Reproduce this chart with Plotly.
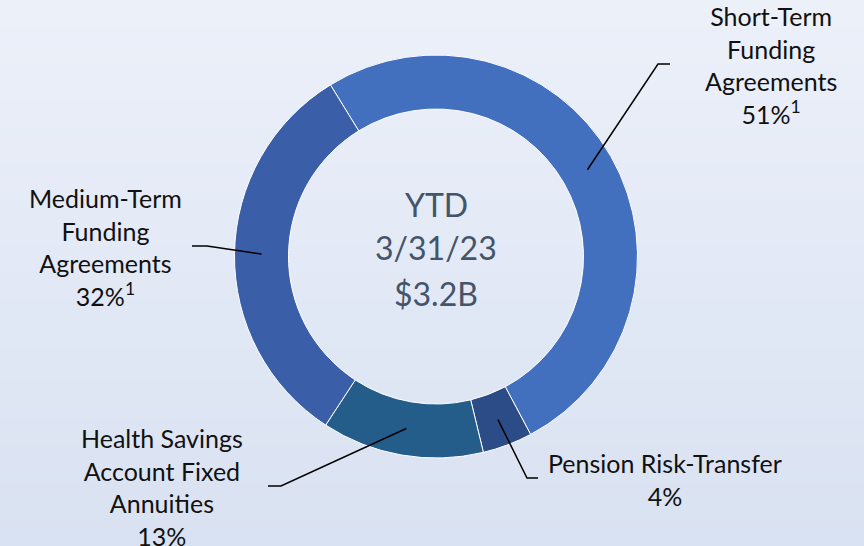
import math
import plotly.graph_objects as go

# ---- data ----
categories = ["Short-Term Funding Agreements", "Pension Risk-Transfer",
              "Health Savings Account Fixed Annuities", "Medium-Term Funding Agreements"]
values = [51, 4, 13, 32]
label_texts = ["Short-Term<br>Funding<br>Agreements<br>51%<sup>1</sup>",
               "Pension Risk-Transfer<br>4%",
               "Health Savings<br>Account Fixed<br>Annuities<br>13%",
               "Medium-Term<br>Funding<br>Agreements<br>32%<sup>1</sup>"]
center_lines = ["YTD", "3/31/23", "$3.2B"]
colors = ["#4270BF", "#2B4C86", "#255D8A", "#3A5EA7"]

W, H = 864, 546
CX, CY = 436, 256.5          # pixel center of donut
R_OUT, R_IN = 201.5, 147.5
ROTATION = -31.6

def px(x):
    return x / W

def py(y):
    return 1 - y / H

fig = go.Figure()
fig.add_trace(go.Pie(
    labels=categories, values=values, sort=False, direction="clockwise",
    rotation=ROTATION, hole=R_IN / R_OUT,
    marker=dict(colors=colors, line=dict(color="white", width=1)),
    textinfo="none", hoverinfo="label+percent", showlegend=False,
    domain=dict(x=[px(CX - R_OUT), px(CX + R_OUT)], y=[py(CY + R_OUT), py(CY - R_OUT)]),
))

# background vertical gradient
top = (236, 240, 249)
bot = (217, 226, 242)
N = 60
shapes = []
for i in range(N):
    t = i / (N - 1)
    c = tuple(round(top[k] + (bot[k] - top[k]) * t) for k in range(3))
    shapes.append(dict(type="rect", xref="paper", yref="paper", x0=0, x1=1,
                       y0=1 - (i + 1) / N, y1=1 - i / N + 0.001,
                       fillcolor="rgb(%d,%d,%d)" % c, line=dict(width=0), layer="below"))

# leader lines: start at mid-angle of each slice on mid ring
elbows = [(658, 64), (527, 478), (281, 486), (207, 246)]
ends = [(670, 64), (538, 478), (268, 486), (192, 246)]
total = sum(values)
ang = ROTATION
r_mid = (R_OUT + R_IN) / 2
for i, v in enumerate(values):
    span = v / total * 360
    mid = math.radians(ang + span / 2)
    ang += span
    sx = CX + r_mid * math.sin(mid)
    sy = CY - r_mid * math.cos(mid)
    ex, ey = elbows[i]
    fx, fy = ends[i]
    shapes.append(dict(type="path", xref="paper", yref="paper",
                       path="M %f,%f L %f,%f L %f,%f" % (px(sx), py(sy), px(ex), py(ey), px(fx), py(fy)),
                       line=dict(color="black", width=1.5)))

label_pos = [(771, 65), (665, 479), (162, 487), (105, 247)]
annotations = []
for (x, y), t in zip(label_pos, label_texts):
    annotations.append(dict(x=px(x), y=py(y), xref="paper", yref="paper", text=t,
                            showarrow=False, align="center", xanchor="center", yanchor="middle",
                            font=dict(family="Lato", size=25, color="#111111")))
for y, t in zip([204, 248, 293], center_lines):
    annotations.append(dict(x=px(CX), y=py(y), xref="paper", yref="paper", text=t,
                            showarrow=False, align="center", xanchor="center", yanchor="middle",
                            font=dict(family="Lato", size=32, color="#44546A")))

fig.update_layout(width=W, height=H, margin=dict(l=0, r=0, t=0, b=0),
                  paper_bgcolor="#E4EAF5", plot_bgcolor="rgba(0,0,0,0)",
                  shapes=shapes, annotations=annotations,
                  xaxis=dict(visible=False), yaxis=dict(visible=False))
fig.write_html("out.html", config={"displayModeBar": False},
               post_script="document.body.style.margin='0';document.body.style.padding='0';")
